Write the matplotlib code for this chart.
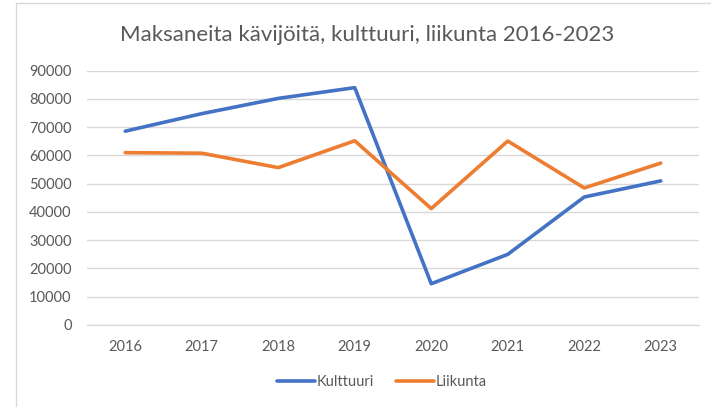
import matplotlib.pyplot as plt
from matplotlib.patches import Rectangle

years = ["2016", "2017", "2018", "2019", "2020", "2021", "2022", "2023"]
kulttuuri = [68600, 74800, 80200, 84000, 14600, 25000, 45300, 51000]
liikunta = [61000, 60800, 55700, 65200, 41200, 65100, 48500, 57300]

plt.rcParams['font.family'] = ['Lato', 'DejaVu Sans']

fig = plt.figure(figsize=(7.11, 4.07), dpi=100)
ax = fig.add_axes([87 / 711, 1 - 325 / 407, 612 / 711, (325 - 70.7) / 407])

x = range(len(years))
ax.plot(x, kulttuuri, color='#4472C4', lw=2.6, label='Kulttuuri', solid_capstyle='round')
ax.plot(x, liikunta, color='#ED7D31', lw=2.6, label='Liikunta', solid_capstyle='round')

ax.set_xlim(-0.5, len(years) - 0.5)
ax.set_ylim(0, 90000)
ax.set_yticks(range(0, 90001, 10000))
ax.set_xticks(list(x))
ax.set_xticklabels(years)
ax.grid(axis='y', color='#D9D9D9', lw=1)
ax.set_axisbelow(True)
for s in ax.spines.values():
    s.set_visible(False)
ax.spines['bottom'].set_visible(True)
ax.spines['bottom'].set_color('#D9D9D9')
ax.tick_params(length=0, labelsize=10.5, colors='#595959')
ax.tick_params(axis='y', pad=11)
ax.tick_params(axis='x', pad=11)

fig.text(367 / 711, 1 - 35 / 407, 'Maksaneita kävijöitä, kulttuuri, liikunta 2016-2023',
         ha='center', va='center', fontsize=16, color='#595959')

fig.legend(loc='center', bbox_to_anchor=(382 / 711, 1 - 382 / 407), ncol=2, frameon=False,
           fontsize=10.5, labelcolor='#595959', handlelength=2.6, handletextpad=0.1,
           columnspacing=1.5)

# chart border
fig.patches.append(Rectangle((16 / 711, -0.01), 1.0, 1 - 3 / 407 + 0.01,
                             transform=fig.transFigure, fill=False,
                             edgecolor='#D9D9D9', lw=1))

fig.savefig('out.png', dpi=100)
